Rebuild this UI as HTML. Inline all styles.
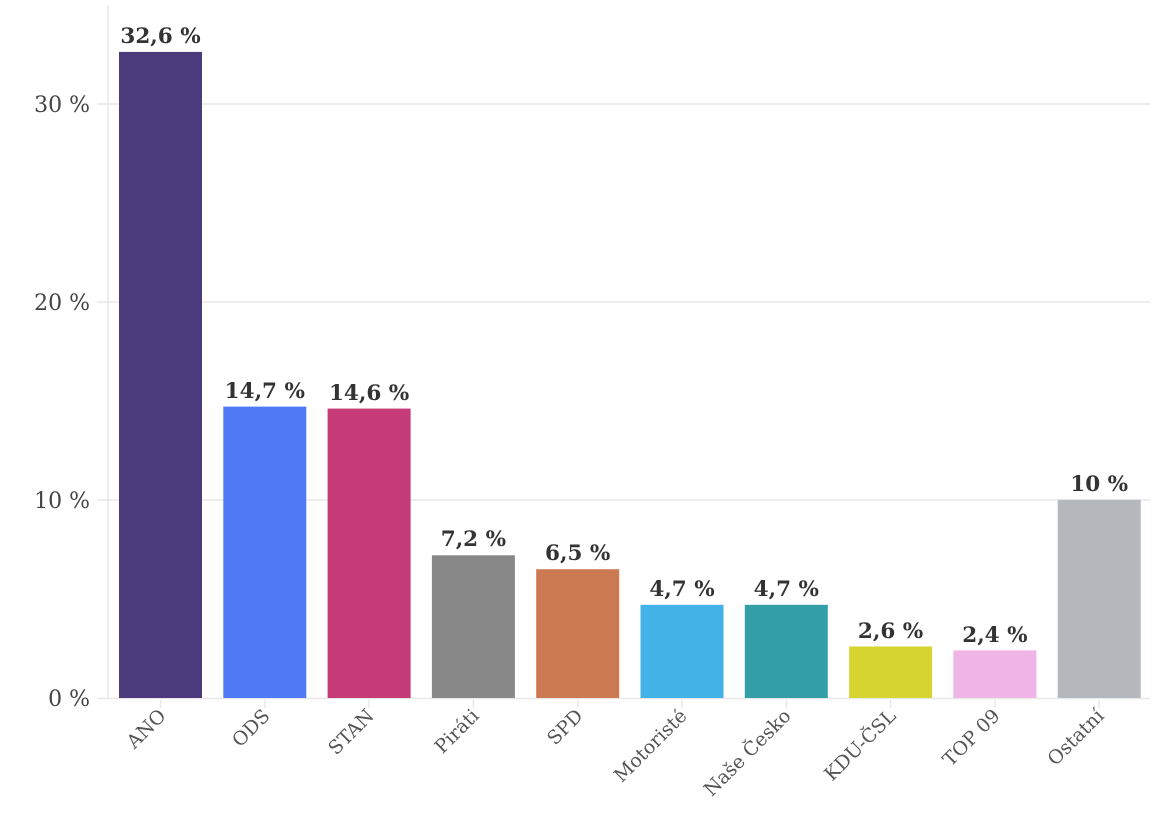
<!DOCTYPE html>
<html><head><meta charset="utf-8"><style>body{margin:0;background:#fff}svg{display:block}</style></head><body>
<svg width="1173" height="834" xmlns="http://www.w3.org/2000/svg" font-family="'DejaVu Serif','Liberation Serif',serif">
<g stroke="#e8e8e8" stroke-width="1.5">
<line x1="97" y1="104" x2="1150" y2="104"/>
<line x1="97" y1="302" x2="1150" y2="302"/>
<line x1="97" y1="500" x2="1150" y2="500"/>
<line x1="97" y1="698.5" x2="1150" y2="698.5"/>
<line x1="108" y1="5" x2="108" y2="698"/>
<line x1="160.5" y1="700" x2="160.5" y2="708"/>
<line x1="264.8" y1="700" x2="264.8" y2="708"/>
<line x1="369.1" y1="700" x2="369.1" y2="708"/>
<line x1="473.4" y1="700" x2="473.4" y2="708"/>
<line x1="577.7" y1="700" x2="577.7" y2="708"/>
<line x1="682" y1="700" x2="682" y2="708"/>
<line x1="786.3" y1="700" x2="786.3" y2="708"/>
<line x1="890.6" y1="700" x2="890.6" y2="708"/>
<line x1="994.9" y1="700" x2="994.9" y2="708"/>
<line x1="1099.2" y1="700" x2="1099.2" y2="708"/>
</g>
<g font-size="22" fill="#444" text-anchor="end">
<text x="90" y="112">30 %</text>
<text x="90" y="310">20 %</text>
<text x="90" y="508">10 %</text>
<text x="90" y="706">0 %</text>
</g>
<rect x="119" y="51.9" width="83" height="646.1" fill="#4b3a7c"/>
<rect x="223.3" y="406.6" width="83" height="291.4" fill="#4f79f5"/>
<rect x="327.6" y="408.6" width="83" height="289.4" fill="#c43b77"/>
<rect x="431.9" y="555.3" width="83" height="142.7" fill="#888888"/>
<rect x="536.2" y="569.2" width="83" height="128.8" fill="#cc7a52"/>
<rect x="640.5" y="604.8" width="83" height="93.2" fill="#43b2e6"/>
<rect x="744.8" y="604.8" width="83" height="93.2" fill="#339ea6"/>
<rect x="849.1" y="646.5" width="83" height="51.5" fill="#d6d42e"/>
<rect x="953.4" y="650.4" width="83" height="47.6" fill="#efb5e6"/>
<rect x="1057.7" y="499.8" width="83" height="198.2" fill="#b4b7bb"/>
<g text-anchor="middle" font-weight="bold" font-size="21.5" fill="#333">
<text x="160.5" y="43">32,6 %</text>
<text x="264.8" y="398">14,7 %</text>
<text x="369.1" y="400">14,6 %</text>
<text x="473.4" y="546">7,2 %</text>
<text x="577.7" y="560">6,5 %</text>
<text x="682" y="596">4,7 %</text>
<text x="786.3" y="596">4,7 %</text>
<text x="890.6" y="638">2,6 %</text>
<text x="994.9" y="642">2,4 %</text>
<text x="1099.2" y="491">10 %</text>
</g>
<g font-size="19" fill="#555" text-anchor="end">
<text transform="translate(167,717) rotate(-45)">ANO</text>
<text transform="translate(271,717) rotate(-45)">ODS</text>
<text transform="translate(375,717) rotate(-45)">STAN</text>
<text transform="translate(480,717) rotate(-45)">Piráti</text>
<text transform="translate(584,717) rotate(-45)">SPD</text>
<text transform="translate(688,717) rotate(-45)">Motoristé</text>
<text transform="translate(792,717) rotate(-45)">Naše Česko</text>
<text transform="translate(897,717) rotate(-45)">KDU-ČSL</text>
<text transform="translate(1001,717) rotate(-45)">TOP 09</text>
<text transform="translate(1105,717) rotate(-45)">Ostatní</text>
</g>
</svg>
</body></html>
